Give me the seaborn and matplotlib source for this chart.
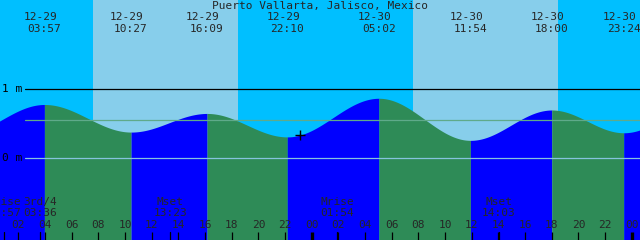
import numpy as np
import matplotlib
matplotlib.use("Agg")
import matplotlib.pyplot as plt
import matplotlib.transforms as mtrans
import seaborn as sns

# ---------------- data (hours counted from 12-29 00:00) ----------------
title = "Puerto Vallarta, Jalisco, Mexico"
# tide extremes (first and last lie outside the visible window)
tide_times = [-2.5, 3.95, 10.45, 16.15, 22.167, 29.033, 35.9, 42.0, 47.4, 53.83]
tide_levels = [0.33, 0.78, 0.38, 0.65, 0.31, 0.87, 0.26, 0.70, 0.37, 0.85]
tide_dates = ["12-28", "12-29", "12-29", "12-29", "12-29", "12-30", "12-30", "12-30", "12-30", "12-31"]
tide_clock = ["21:30", "03:57", "10:27", "16:09", "22:10", "05:02", "11:54", "18:00", "23:24", "05:50"]

sunrise_times = [7.6, 31.6]
sunset_times = [18.47, 42.47]

moon_times = [0.95, 3.6, 13.383, 25.9, 38.05]
moon_names = ["Mrise", "3rd/4", "Mset", "Mrise", "Mset"]
moon_clock = ["00:57", "03:36", "13:23", "01:54", "14:03"]

hour_ticks = list(range(2, 49, 2))
hour_labels = ["%02d" % (h % 24) for h in hour_ticks]

level_lines = [1.0, 0.55, 0.0]
level_labels = ["1 m", None, "0 m"]

now_time = [23.12]
now_level = [0.34]

# ---------------- layout ----------------
W, H = 640, 240
T0 = 0.62
PX_PER_H = 320 / 24
Y0PX, PX_PER_M = 158.3, 69.0
xlim = (T0, T0 + W / PX_PER_H)
ylim = ((Y0PX - H) / PX_PER_M, Y0PX / PX_PER_M)

def fy(ypx):
    return 1 - ypx / H

sns.set_style("white")
plt.rcParams["font.family"] = ["DejaVu Sans Mono", "DejaVu Sans"]

fig = plt.figure(figsize=(6.4, 2.4), dpi=100)
ax = fig.add_axes([0, 0, 1, 1])
ax.set_xlim(*xlim)
ax.set_ylim(*ylim)
ax.set_facecolor("#00BFFF")
for s in ax.spines.values():
    s.set_visible(False)
ax.set_xticks([])
ax.set_yticks([])

blend = mtrans.blended_transform_factory(ax.transData, ax.transAxes)

# day shading
for a, b in zip(sunrise_times, sunset_times):
    ax.axvspan(a, b, color="#87CEEB", lw=0, zorder=0)

# water fill, coloured by rising / falling tide
for i in range(len(tide_times) - 1):
    ta, tb = tide_times[i], tide_times[i + 1]
    ha, hb = tide_levels[i], tide_levels[i + 1]
    t = np.linspace(ta, tb, 200)
    s = (t - ta) / (tb - ta)
    h = ha + (hb - ha) * (1 - np.cos(np.pi * s)) / 2
    col = "#2E8B57" if hb < ha else "#0000FF"
    ax.fill_between(t, ylim[0] - 1, h, color=col, lw=0, zorder=1)

# level lines
line_cols = ["black", "#5FAA8A", "#86C3DE"]
for lv, c in zip(level_lines, line_cols):
    ax.axhline(lv, xmin=25 / W, xmax=1, color=c, lw=0.9, zorder=2)
for lv, lab in zip(level_lines, level_labels):
    if lab:
        ax.text(2 / W, lv, lab, transform=mtrans.blended_transform_factory(ax.transAxes, ax.transData),
                ha="left", va="center", fontsize=8, color="black", zorder=3)

# current-time marker
sns.scatterplot(x=now_time, y=now_level, marker="+", color="black", s=50,
                linewidth=1.0, ax=ax, zorder=4, legend=False)

# title
ax.text(0.5, fy(5.5), title, transform=ax.transAxes, ha="center", va="center", fontsize=8)

# tide event labels at top
for t, d, c in zip(tide_times, tide_dates, tide_clock):
    if xlim[0] - 1 < t < xlim[1] + 1:
        ax.text(t - 4 / PX_PER_H, fy(17.5), d, transform=blend, ha="center", va="center", fontsize=8)
        ax.text(t, fy(29.5), c, transform=blend, ha="center", va="center", fontsize=8)

# moon event labels at bottom
for t, n, c in zip(moon_times, moon_names, moon_clock):
    ax.text(t, fy(202), n, transform=blend, ha="center", va="center", fontsize=8)
    ax.text(t, fy(213.5), c, transform=blend, ha="center", va="center", fontsize=8)
    ax.plot([t, t], [fy(232), fy(241)], transform=blend, color="black", lw=0.9, zorder=3)

# hour ticks
for t, lab in zip(hour_ticks, hour_labels):
    ax.text(t, fy(225.5), lab, transform=blend, ha="center", va="center", fontsize=8)
    lw = 2.4 if lab == "00" else 0.9
    ax.plot([t, t], [fy(232), fy(241)], transform=blend, color="black", lw=lw, zorder=3,
            solid_capstyle="butt")

fig.savefig("out.png", dpi=100)
